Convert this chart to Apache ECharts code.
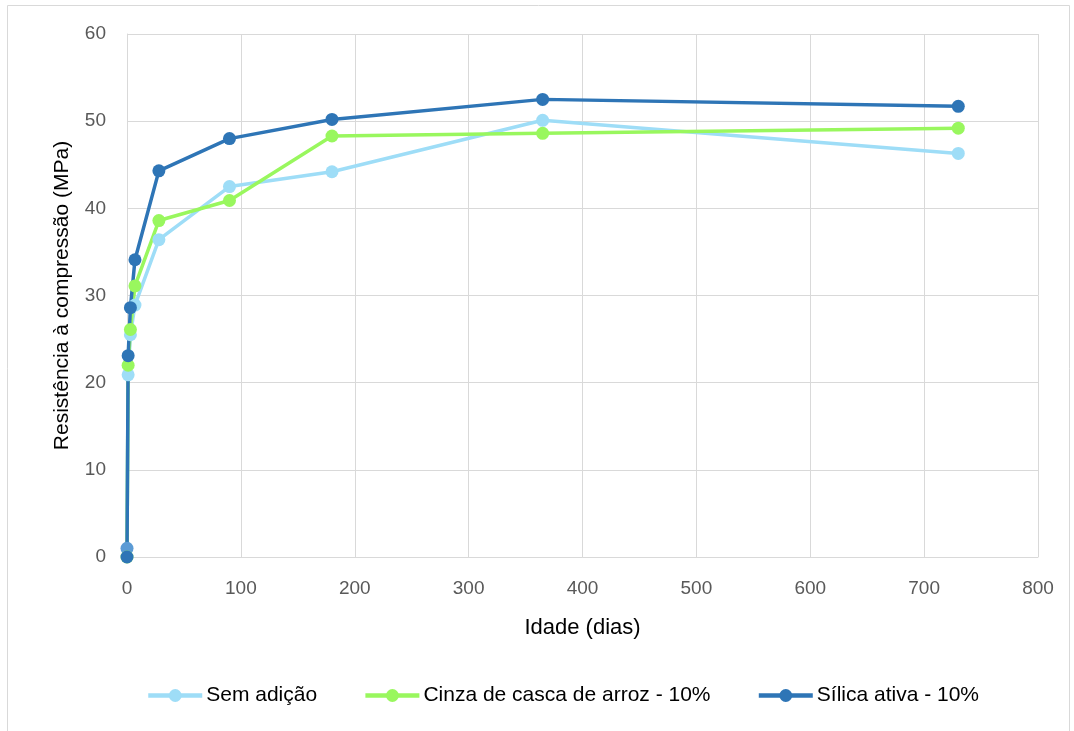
<!DOCTYPE html>
<html><head><meta charset="utf-8">
<script src="https://cdn.jsdelivr.net/npm/echarts@6/dist/echarts.min.js"></script>
<style>html,body{margin:0;padding:0;background:#fff}#c{width:1074px;height:731px}</style>
</head><body><div id="c"></div>
<script>
const ages = [0, 1, 3, 7, 28, 90, 180, 365, 730];
const semAdicao = [1.0, 20.9, 25.5, 28.9, 36.4, 42.5, 44.2, 50.1, 46.3];
const cinzaCasca = [0, 22.0, 26.1, 31.1, 38.6, 40.9, 48.3, 48.6, 49.2];
const silicaAtiva = [0, 23.1, 28.6, 34.1, 44.3, 48.0, 50.2, 52.5, 51.7];
const seriesNames = ['Sem adição', 'Cinza de casca de arroz - 10%', 'Sílica ativa - 10%'];
const seriesColors = ['#9EDDF7', '#99F75E', '#2E75B6'];
const xTicks = [0, 100, 200, 300, 400, 500, 600, 700, 800];
const yTicks = [0, 10, 20, 30, 40, 50, 60];

const font = 'Liberation Sans, Arial, sans-serif';
const chart = echarts.init(document.getElementById('c'));
const allData = [semAdicao, cinzaCasca, silicaAtiva];
chart.setOption({
  animation: false,
  graphic: [{type: 'rect', shape: {x: 7.5, y: 5.5, width: 1062, height: 740}, style: {fill: 'none', stroke: '#d9d9d9', lineWidth: 1}, silent: true}],
  grid: {left: 127, right: 36, top: 34, bottom: 174},
  legend: {
    bottom: 20, left: 141, itemGap: 46, itemWidth: 54, itemHeight: 16,
    lineStyle: {width: 4.5},
    textStyle: {fontFamily: font, fontSize: 21, color: '#000', padding: [0, 0, 0, -1]},
    data: seriesNames
  },
  xAxis: {
    type: 'value', min: xTicks[0], max: xTicks[xTicks.length - 1], interval: 100,
    name: 'Idade (dias)', nameLocation: 'middle', nameGap: 60,
    nameTextStyle: {fontFamily: font, fontSize: 22, color: '#000'},
    axisLine: {show: true, lineStyle: {color: '#d9d9d9'}}, axisTick: {show: false},
    axisLabel: {fontFamily: font, fontSize: 19, color: '#595959', margin: 22},
    splitLine: {show: true, lineStyle: {color: '#d9d9d9', width: 1}}
  },
  yAxis: {
    type: 'value', min: yTicks[0], max: yTicks[yTicks.length - 1], interval: 10,
    name: 'Resistência à compressão (MPa)', nameLocation: 'middle', nameGap: 54,
    nameTextStyle: {fontFamily: font, fontSize: 21, color: '#000'},
    axisLine: {show: true, lineStyle: {color: '#d9d9d9'}}, axisTick: {show: false},
    axisLabel: {fontFamily: font, fontSize: 19, color: '#595959', margin: 21},
    splitLine: {show: true, lineStyle: {color: '#d9d9d9', width: 1}}
  },
  series: seriesNames.map((n, i) => ({
    name: n, type: 'line', symbol: 'circle', symbolSize: 13,
    lineStyle: {color: seriesColors[i], width: 3.5},
    itemStyle: {color: seriesColors[i]},
    data: ages.map((a, j) => {
      const d = {value: [a, allData[i][j]]};
      if (i === 0 && j === 0) d.itemStyle = {color: '#5B9BD5'};
      return d;
    })
  }))
});
</script></body></html>
